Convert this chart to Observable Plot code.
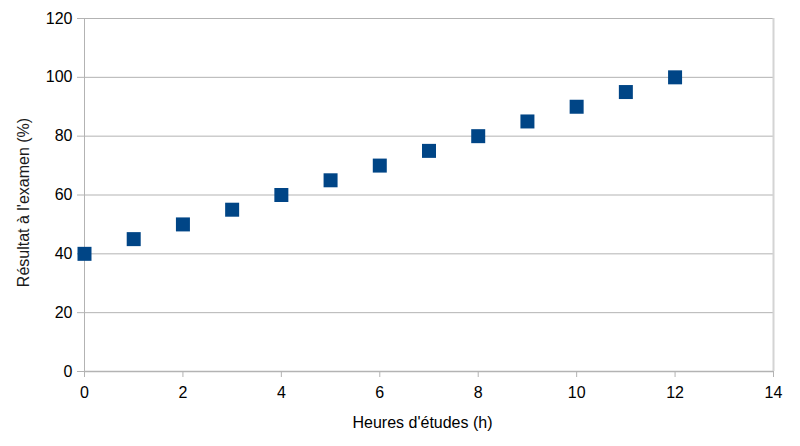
<!DOCTYPE html>
<html>
<head>
<meta charset="utf-8">
<script src="https://cdn.jsdelivr.net/npm/d3@7"></script>
<script src="https://cdn.jsdelivr.net/npm/@observablehq/plot@0.6"></script>
<style>
  html, body { margin: 0; padding: 0; background: #fff; }
  #chart { width: 800px; height: 446px; }
</style>
</head>
<body>
<div id="chart"></div>
<script>
const hours = [0, 1, 2, 3, 4, 5, 6, 7, 8, 9, 10, 11, 12];
const scores = [40, 45, 50, 55, 60, 65, 70, 75, 80, 85, 90, 95, 100];
const xTicks = [0, 2, 4, 6, 8, 10, 12, 14];
const yTicks = [0, 20, 40, 60, 80, 100, 120];
const xLabel = "Heures d'études (h)";
const yLabel = "Résultat à l'examen (%)";

const data = hours.map((h, i) => ({h, s: scores[i]}));
const font = "Liberation Sans, Arial, sans-serif";

const chart = Plot.plot({
  width: 800,
  height: 446,
  marginLeft: 84,
  marginRight: 27,
  marginTop: 18,
  marginBottom: 75,
  style: {fontFamily: font, fontSize: "16px", color: "#000", background: "#fff"},
  x: {domain: [0, 14]},
  y: {domain: [0, 120]},
  marks: [
    Plot.ruleY(yTicks.filter(d => d > 0), {stroke: "#b3b3b3", strokeWidth: 1, strokeOpacity: 1}),
    Plot.ruleX([14], {stroke: "#d4d4d4", strokeWidth: 2}),
    Plot.ruleX([0], {stroke: "#b3b3b3", strokeWidth: 1}),
    Plot.ruleY([0], {stroke: "#b3b3b3", strokeWidth: 1.5}),
    Plot.axisX({ticks: xTicks, tickSize: 6, tickPadding: 9, stroke: "#b3b3b3", strokeOpacity: 1, label: null, fontSize: 16, fill: "#000"}),
    Plot.axisY({ticks: yTicks, tickSize: 7, tickPadding: 5, stroke: "#b3b3b3", strokeOpacity: 1, label: null, fontSize: 16, fill: "#000"}),
    Plot.dot(data, {x: "h", y: "s", symbol: "square", r: 7.9, fill: "#004586", stroke: "none"}),
    Plot.text([xLabel], {frameAnchor: "bottom", textAnchor: "middle", lineAnchor: "middle", dy: 51, dx: -6.5, fontSize: 16, fill: "#000"}),
    Plot.text([yLabel], {frameAnchor: "left", textAnchor: "middle", lineAnchor: "middle", dx: -61, dy: 7.5, rotate: -90, fontSize: 16, fill: "#1a1a1a"})
  ]
});
document.getElementById("chart").appendChild(chart);
</script>
</body>
</html>
